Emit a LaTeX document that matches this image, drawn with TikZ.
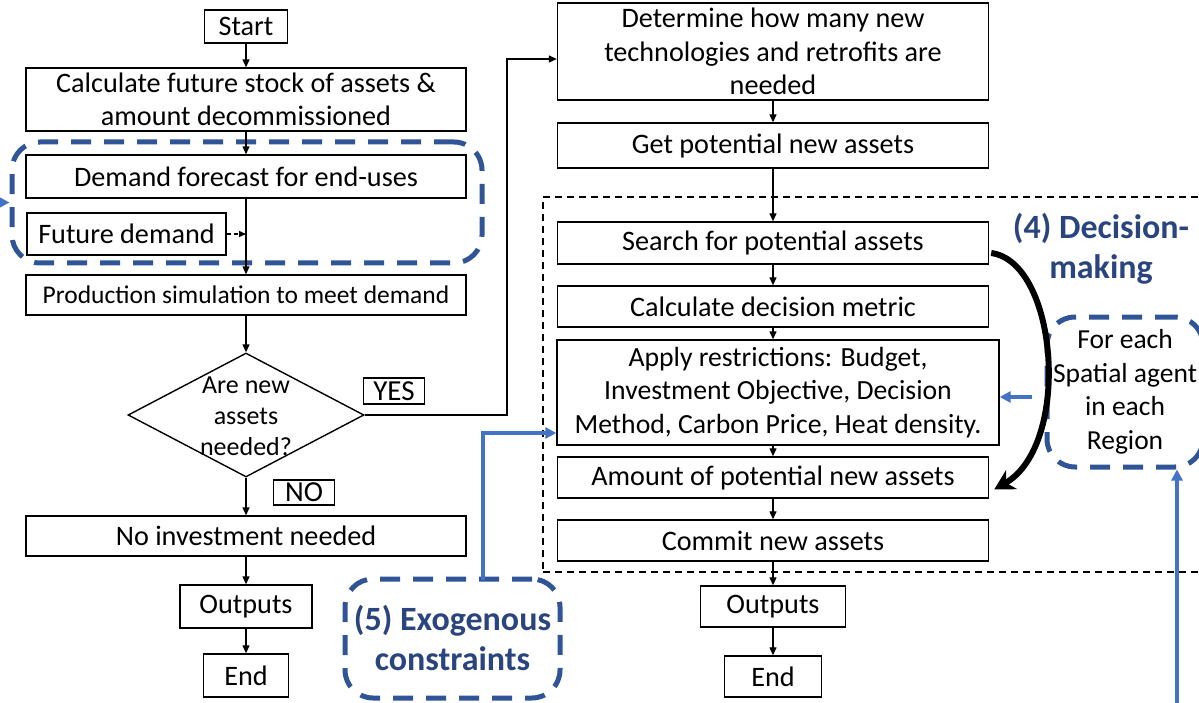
\documentclass[tikz,border=0pt]{standalone}
\usepackage{fontspec}
\setmainfont{Carlito}
\usetikzlibrary{shapes.geometric,arrows.meta}
\definecolor{dashblue}{HTML}{2F5597}
\definecolor{arrowblue}{HTML}{4472C4}
\definecolor{titleblue}{HTML}{2A457E}
\begin{document}
\begin{tikzpicture}[x=1pt,y=-1pt]
\tikzset{
  base/.style={font=\fontsize{28.2}{33.5}\selectfont, align=center, inner sep=0pt},
  box/.style={base, draw, line width=1.4pt},
  flow/.style={line width=1.3pt, -{Triangle[length=8pt,width=7pt]}},
  bdash/.style={draw=dashblue, line width=5pt, dash pattern=on 20pt off 13pt, rounded corners=28pt},
  barrow/.style={draw=arrowblue, line width=3.5pt, -{Triangle[length=11pt,width=11pt]}},
  title/.style={font=\fontsize{34}{40}\selectfont\bfseries, text=titleblue, align=center, inner sep=0pt}
}
\useasboundingbox (0,0) rectangle (1199,703);

% ---- grouping frames ----
\node[bdash, minimum width=470pt, minimum height=121pt] (demgroup) at (247,202.5) {};
\node[draw, line width=1.3pt, dash pattern=on 7pt off 5pt, minimum width=686pt, minimum height=375pt] (frame) at (886,384.5) {};

% ---- left column ----
\node[box, minimum width=83pt, minimum height=33pt] (start) at (246,26.5) {Start};
\node[box, minimum width=440pt, minimum height=63pt] (calc) at (246,99.5) {Calculate future stock of assets \&\\amount decommissioned};
\node[box, minimum width=440pt, minimum height=43pt] (demand) at (246,176.5) {Demand forecast for end-uses};
\node[box, minimum width=199pt, minimum height=42pt] (future) at (126.5,234) {Future demand};
\node[box, font=\fontsize{25.5}{31}\selectfont, minimum width=440pt, minimum height=40pt] (prod) at (246,295) {Production simulation to meet demand};
\node[draw, diamond, line width=1.4pt, inner sep=0pt, minimum width=236pt, minimum height=124pt] (dec) at (246,415) {};
\node[base, font=\fontsize{26}{31}\selectfont] (dectext) at (246,416) {Are new\\assets\\needed?};
\node[box, font=\fontsize{29}{30}\selectfont, minimum width=61pt, minimum height=26pt] (yes) at (394,391) {YES};
\node[box, font=\fontsize{29}{30}\selectfont, minimum width=61pt, minimum height=25pt] (no) at (304,492.5) {NO};
\node[box, minimum width=440pt, minimum height=40pt] (noinv) at (246,536) {No investment needed};
\node[box, minimum width=132pt, minimum height=43pt] (outL) at (246,606.5) {Outputs};
\node[box, minimum width=85pt, minimum height=43pt] (endL) at (246,675.5) {End};

% ---- right column ----
\node[box, minimum width=431pt, minimum height=97pt] (det) at (773,51.5) {Determine how many new\\technologies and retrofits are\\needed};
\node[box, minimum width=431pt, minimum height=45pt] (get) at (773,145.5) {Get potential new assets};
\node[box, minimum width=431pt, minimum height=42pt] (search) at (773,243) {Search for potential assets};
\node[box, minimum width=431pt, minimum height=41pt] (metric) at (773,306.5) {Calculate decision metric};
\node[box, font=\fontsize{27.7}{33.5}\selectfont, minimum width=442pt, minimum height=105pt] (apply) at (778,392.5) {Apply restrictions: Budget,\\Investment Objective, Decision\\Method, Carbon Price, Heat density.};
\node[box, minimum width=431pt, minimum height=41pt] (amount) at (773,477.5) {Amount of potential new assets};
\node[box, minimum width=431pt, minimum height=41pt] (commit) at (773,540.5) {Commit new assets};
\node[box, minimum width=145pt, minimum height=41pt] (outR) at (773,606.5) {Outputs};
\node[box, minimum width=97pt, minimum height=41pt] (endR) at (773,676.5) {End};

% ---- annotations ----
\node[title] (dmtitle) at (1101,249) {(4) Decision-\\making};
\node[bdash, base, font=\fontsize{27.5}{33.5}\selectfont, minimum width=156pt, minimum height=150pt] (each) at (1125,392) {For each\\Spatial agent\\in each\\Region};
\node[bdash, title, minimum width=215pt, minimum height=119pt] (exo) at (452.5,638.5) {(5) Exogenous\\constraints};

% ---- left column flow ----
\draw[flow] (start.south) -- (start.south |- calc.north);
\draw[flow] (calc.south) -- (calc.south |- demand.north);
\draw[flow] (demand.south) -- (demand.south |- prod.north);
\draw[line width=1.3pt, dash pattern=on 4pt off 3pt, -{Triangle[length=7pt,width=6pt]}] (future.east) -- (future.east -| demand.south);
\draw[flow] (prod.south) -- (dec.north);
\draw[flow] (dec.south) -- (dec.south |- noinv.north);
\draw[flow] (noinv.south) -- (noinv.south |- outL.north);
\draw[flow] (outL.south) -- (outL.south |- endL.north);

% ---- YES branch ----
\coordinate (yesbend) at (507,59);
\draw[flow] (dec.east) -| (yesbend) -- (yesbend -| det.west);

% ---- right column flow ----
\draw[flow] (det.south) -- (det.south |- get.north);
\draw[flow] (get.south) -- (get.south |- search.north);
\draw[flow] (search.south) -- (search.south |- metric.north);
\draw[flow] (metric.south) -- (metric.south |- apply.north);
\draw[flow] (metric.south |- apply.south) -- (metric.south |- amount.north);
\draw[flow] (amount.south) -- (amount.south |- commit.north);
\draw[flow] (commit.south) -- (commit.south |- outR.north);
\draw[flow] (outR.south) -- (outR.south |- endR.north);

% ---- decision loop ----
\draw[line width=6pt, -{Stealth[length=20pt,width=22pt]}] ([xshift=2pt,yshift=-10pt]search.east) .. controls (1058,262) and (1072,445) .. ([xshift=5pt,yshift=-12pt]amount.east);

% ---- blue inputs ----
\coordinate (leftin) at (-20,202.5);
\draw[barrow] (leftin) -- (demgroup.west);
\coordinate (eachout) at (1032,397);
\draw[barrow] (eachout) -- (eachout -| apply.east);
\coordinate (bottomin) at (1177,720);
\draw[barrow] (bottomin) -- (bottomin |- each.south);
\coordinate (exotop) at (483,580);
\coordinate (exobend) at (483,433);
\draw[barrow] (exotop) -- (exobend) -- (exobend -| apply.west);
\end{tikzpicture}
\end{document}
